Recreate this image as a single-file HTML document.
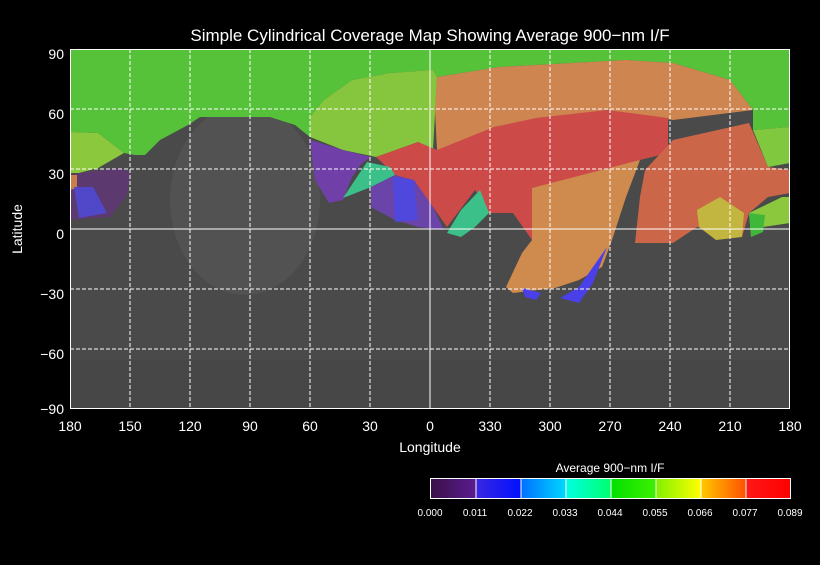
<!DOCTYPE html>
<html><head><style>
body{margin:0;background:#000;}
svg text{font-family:"Liberation Sans",sans-serif;fill:#fff;}
</style></head><body>
<svg width="820" height="560" viewBox="0 0 820 560" xmlns="http://www.w3.org/2000/svg">
<rect width="820" height="560" fill="#000"/>
<text x="430" y="41" font-size="17" text-anchor="middle">Simple Cylindrical Coverage Map Showing Average 900−nm I/F</text>
<defs><clipPath id="c"><rect x="70" y="49" width="720" height="360"/></clipPath></defs>
<g clip-path="url(#c)">
<rect x="70" y="49" width="720" height="360" fill="#4a4a4a"/>
<ellipse cx="245" cy="200" rx="75" ry="95" fill="#525252"/>
<rect x="70" y="360" width="720" height="49" fill="#474747"/>
<polygon fill="#55c23a" points="70,49 790,49 790,127 753,130 753,110 730,80 673,63 626,60 499,67 437,77 433,70 390,73 352,80 324,100 310,117 310,137 295,125 270,117 200,117 188,125 160,140 145,155 135,155 124,153 98,133 70,132"/>
<polygon fill="#86c63e" points="310,117 324,100 352,80 390,73 433,70 437,77 433,150 418,142 376,157 343,150 310,137"/>
<polygon fill="#cf8550" points="499,67 626,60 673,63 730,80 753,110 673,120 607,110 536,120 494,127 461,157 437,150 435,110 437,77"/>
<polygon fill="#cc4a48" points="376,157 418,142 437,150 494,127 536,118 607,110 668,118 668,153 640,160 560,183 532,188 532,240 513,213 489,213 475,190 447,227 433,207 418,197 395,175"/>
<polygon fill="#cf8a4e" points="532,188 640,160 626,197 612,240 602,267 579,280 555,288 513,293 506,287 522,253 532,240"/>
<polygon fill="#cc6648" points="645,170 673,140 749,123 768,167 790,170 790,193 768,197 749,213 742,237 697,227 673,243 635,243 640,197"/>
<polygon fill="#c2b640" points="697,210 720,197 744,213 742,237 716,240 699,227"/>
<polygon fill="#8cc83e" points="749,213 782,197 790,197 790,223 763,227 751,235"/>
<polygon fill="#3fb83a" points="749,213 765,215 763,232 751,237"/>
<polygon fill="#80c83e" points="753,130 790,127 790,163 768,167"/>
<polygon fill="#8cc83e" points="70,132 98,133 124,153 98,168 79,173 70,173"/>
<polygon fill="#5c3a70" points="79,173 121,168 131,173 126,197 110,217 70,220 70,175"/>
<polygon fill="#c88048" points="70,175 77,175 77,188 70,190"/>
<polygon fill="#5048c8" points="74,187 93,187 107,213 79,218"/>
<polygon fill="#7040a8" points="310,140 343,150 371,157 362,163 352,177 343,200 329,203 315,180"/>
<polygon fill="#3cc08a" points="367,162 390,167 395,175 371,187 343,198 357,177"/>
<polygon fill="#6a44a8" points="371,187 395,175 414,180 433,207 444,230 418,227 395,220 371,207"/>
<polygon fill="#5048dc" points="393,177 414,180 418,220 395,222"/>
<polygon fill="#3cc08a" points="480,190 489,213 475,227 461,237 447,233 461,210"/>
<polygon fill="#4a40e8" points="607,247 593,283 579,303 560,298 579,287"/>
<polygon fill="#4a40e8" points="522,288 541,293 536,300 525,297"/>
</g>
<g stroke="#fff" stroke-width="1" stroke-dasharray="4,2" fill="none">
<line x1="130" y1="49" x2="130" y2="409"/><line x1="190" y1="49" x2="190" y2="409"/>
<line x1="250" y1="49" x2="250" y2="409"/><line x1="310" y1="49" x2="310" y2="409"/>
<line x1="370" y1="49" x2="370" y2="409"/>
<line x1="490" y1="49" x2="490" y2="409"/><line x1="550" y1="49" x2="550" y2="409"/>
<line x1="610" y1="49" x2="610" y2="409"/><line x1="670" y1="49" x2="670" y2="409"/>
<line x1="730" y1="49" x2="730" y2="409"/>
<line x1="70" y1="109" x2="790" y2="109"/><line x1="70" y1="169" x2="790" y2="169"/>
<line x1="70" y1="289" x2="790" y2="289"/><line x1="70" y1="349" x2="790" y2="349"/>
</g>
<g stroke="#fff" stroke-width="1" fill="none">
<line x1="430" y1="49" x2="430" y2="409"/><line x1="70" y1="229" x2="790" y2="229"/>
<rect x="70.5" y="49.5" width="719" height="359"/>
</g>
<g font-size="14" text-anchor="end">
<text x="64" y="59">90</text><text x="64" y="119">60</text><text x="64" y="179">30</text>
<text x="64" y="239">0</text><text x="64" y="299">−30</text><text x="64" y="359">−60</text><text x="64" y="414">−90</text>
</g>
<g font-size="14" text-anchor="middle">
<text x="70" y="431">180</text><text x="130" y="431">150</text><text x="190" y="431">120</text>
<text x="250" y="431">90</text><text x="310" y="431">60</text><text x="370" y="431">30</text>
<text x="430" y="431">0</text><text x="490" y="431">330</text><text x="550" y="431">300</text>
<text x="610" y="431">270</text><text x="670" y="431">240</text><text x="730" y="431">210</text>
<text x="790" y="431">180</text>
<text x="430" y="452">Longitude</text>
<text transform="translate(22,229) rotate(-90)">Latitude</text>
</g>
<defs>
<linearGradient id="g1"><stop offset="0" stop-color="#3a1048"/><stop offset="1" stop-color="#5a1c90"/></linearGradient>
<linearGradient id="g2"><stop offset="0" stop-color="#3a28e0"/><stop offset="1" stop-color="#0010ff"/></linearGradient>
<linearGradient id="g3"><stop offset="0" stop-color="#0070ff"/><stop offset="1" stop-color="#00d8ff"/></linearGradient>
<linearGradient id="g4"><stop offset="0" stop-color="#00ffe0"/><stop offset="1" stop-color="#00ff70"/></linearGradient>
<linearGradient id="g5"><stop offset="0" stop-color="#00e000"/><stop offset="1" stop-color="#40f000"/></linearGradient>
<linearGradient id="g6"><stop offset="0" stop-color="#80f000"/><stop offset="1" stop-color="#ffff00"/></linearGradient>
<linearGradient id="g7"><stop offset="0" stop-color="#ffc800"/><stop offset="1" stop-color="#ff5000"/></linearGradient>
<linearGradient id="g8"><stop offset="0" stop-color="#ff1818"/><stop offset="1" stop-color="#ff0000"/></linearGradient>
</defs>
<rect x="431" y="479" width="45" height="20" fill="url(#g1)"/>
<rect x="476" y="479" width="45" height="20" fill="url(#g2)"/>
<rect x="521" y="479" width="45" height="20" fill="url(#g3)"/>
<rect x="566" y="479" width="45" height="20" fill="url(#g4)"/>
<rect x="611" y="479" width="45" height="20" fill="url(#g5)"/>
<rect x="656" y="479" width="45" height="20" fill="url(#g6)"/>
<rect x="701" y="479" width="45" height="20" fill="url(#g7)"/>
<rect x="746" y="479" width="44" height="20" fill="url(#g8)"/>
<g stroke="#fff" fill="none" stroke-width="1">
<rect x="430.5" y="478.5" width="360" height="20"/>
<line x1="476" y1="479" x2="476" y2="499"/><line x1="521" y1="479" x2="521" y2="499"/>
<line x1="566" y1="479" x2="566" y2="499"/><line x1="611" y1="479" x2="611" y2="499"/>
<line x1="656" y1="479" x2="656" y2="499"/><line x1="701" y1="479" x2="701" y2="499"/>
<line x1="746" y1="479" x2="746" y2="499"/>
</g>
<text x="610" y="472" font-size="12" text-anchor="middle">Average 900−nm I/F</text>
<g font-size="10" text-anchor="middle">
<text x="430" y="516">0.000</text><text x="475" y="516">0.011</text><text x="520" y="516">0.022</text>
<text x="565" y="516">0.033</text><text x="610" y="516">0.044</text><text x="655" y="516">0.055</text>
<text x="700" y="516">0.066</text><text x="745" y="516">0.077</text><text x="790" y="516">0.089</text>
</g>
</svg>
</body></html>
